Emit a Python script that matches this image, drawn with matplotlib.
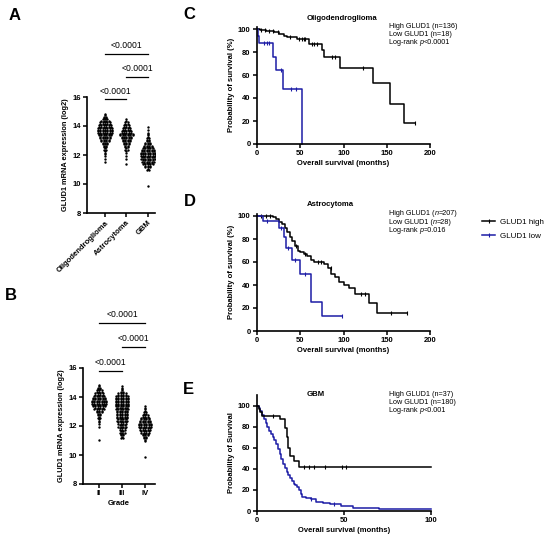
import matplotlib
matplotlib.use("Agg")
import matplotlib.pyplot as plt
import numpy as np
from matplotlib.lines import Line2D

plt.rcParams['font.family'] = ['Liberation Sans', 'DejaVu Sans']

BLUE = '#1c1ca6'

# ---- panel A: GLUD1 expression by histology (row centers, dots per row) ----
a_groups = ['Oligodendroglioma', 'Astrocytoma', 'GBM']
a_oligo_y = [11.6, 11.8, 12.0, 12.2, 12.4, 12.6, 12.8, 13.0, 13.2, 13.4, 13.6, 13.8, 14.0, 14.2, 14.4, 14.6, 14.8]
a_oligo_n = [1, 1, 2, 2, 3, 4, 6, 8, 10, 12, 14, 14, 12, 10, 7, 4, 2]
a_astro_y = [11.4, 11.8, 12.0, 12.2, 12.4, 12.6, 12.8, 13.0, 13.2, 13.4, 13.6, 13.8, 14.0, 14.2, 14.4]
a_astro_n = [1, 1, 1, 2, 3, 4, 6, 8, 10, 12, 10, 8, 6, 4, 2]
a_gbm_y = [9.9, 11.0, 11.2, 11.4, 11.6, 11.8, 12.0, 12.2, 12.4, 12.6, 12.8, 13.0, 13.2, 13.4, 13.6, 13.8, 14.0]
a_gbm_n = [1, 3, 6, 9, 11, 13, 14, 13, 11, 8, 6, 4, 3, 2, 1, 1, 1]

# ---- panel B: GLUD1 expression by grade ----
b_groups = ['II', 'III', 'IV']
b_g2_y = [11.1, 12.0, 12.2, 12.4, 12.6, 12.8, 13.0, 13.2, 13.4, 13.6, 13.8, 14.0, 14.2, 14.4, 14.6, 14.8]
b_g2_n = [1, 1, 2, 2, 3, 4, 6, 9, 12, 14, 13, 11, 8, 6, 4, 2]
b_g3_y = [11.2, 11.4, 11.6, 11.8, 12.0, 12.2, 12.4, 12.6, 12.8, 13.0, 13.2, 13.4, 13.6, 13.8, 14.0, 14.2, 14.4, 14.6, 14.8]
b_g3_n = [3, 4, 5, 6, 7, 8, 9, 10, 10, 10, 11, 12, 12, 12, 12, 8, 3, 2, 1]
b_g4_y = [9.9, 11.0, 11.2, 11.4, 11.6, 11.8, 12.0, 12.2, 12.4, 12.6, 12.8, 13.0, 13.2, 13.4]
b_g4_n = [1, 2, 4, 6, 8, 10, 12, 11, 9, 7, 5, 3, 2, 1]

sig_label = '<0.0001'
a_sig = [(0, 2, 19.0), (1, 2, 17.4), (0, 1, 15.85)]
b_sig = [(0, 2, 19.1), (1, 2, 17.45), (0, 1, 15.8)]

# ---- panel C: oligodendroglioma KM ----
c_hi_t = [0, 4, 10, 20, 26, 31, 35, 46, 60, 75, 77, 96, 134, 154, 170, 183]
c_hi_s = [100, 99, 98, 97, 96, 94, 93, 91, 87, 82, 76, 66, 53, 35, 18, 18]
c_hi_cens = [5, 9, 14, 19, 24, 38, 49, 52, 54, 56, 64, 66, 69, 87, 90, 123, 183]
c_lo_t = [0, 1, 2, 18, 22, 30, 52]
c_lo_s = [100, 94, 88, 76, 64, 48, 0]
c_lo_cens = [8, 11, 14, 28, 39, 45]
# each line is a list of (text, italic) pieces
c_text = [[('High GLUD1 (n=136)', False)],
          [('Low GLUD1 (n=18)', False)],
          [('Log-rank ', False), ('p', True), ('<0.0001', False)]]

# ---- panel D: astrocytoma KM ----
d_hi_t = [0, 18, 22, 26, 29, 32, 35, 38, 41, 44, 47, 50, 54, 58, 62, 66, 78, 82, 86, 90, 95, 100, 106, 113, 130, 139, 173]
d_hi_s = [100, 99, 97, 95, 93, 90, 86, 82, 78, 74, 70, 69, 67, 65, 62, 60, 58, 55, 50, 47, 43, 40, 37, 32, 24, 16, 16]
d_hi_cens = [5, 10, 15, 45, 56, 70, 74, 85, 120, 125, 155, 173]
d_lo_t = [0, 7, 25, 31, 34, 40, 50, 63, 75, 98]
d_lo_s = [100, 96, 90, 82, 72, 62, 50, 25, 13, 13]
d_lo_cens = [12, 28, 36, 44, 56, 98]
d_text = [[('High GLUD1 (', False), ('n', True), ('=207)', False)],
          [('Low GLUD1 (', False), ('n', True), ('=28)', False)],
          [('Log-rank ', False), ('p', True), ('=0.016', False)]]

# ---- panel E: GBM KM ----
e_hi_t = [0, 1, 2, 3, 13, 16, 17, 18, 19, 21, 24, 100]
e_hi_s = [100, 97, 94, 90, 87, 79, 70, 60, 52, 47, 41.5, 41.5]
e_hi_cens = [9, 27, 30, 33, 39, 49, 51]
e_lo_t = [0, 1, 2, 3, 4, 5, 6, 7, 8, 9, 10, 11, 12, 13, 14, 15, 16, 17, 18, 19, 20, 21, 22, 23, 24,
          25, 26, 28, 31, 34, 38, 42, 48, 55, 70, 100]
e_lo_s = [100, 98, 95, 91, 87, 83, 80, 76, 73, 70, 67, 64, 59, 54, 49, 45, 41, 37, 34, 31, 28, 26, 25, 23, 20,
          16, 13, 12, 11, 9, 8, 7, 5, 3, 1.5, 1.5]
e_lo_cens = [31, 44]
e_text = [[('High GLUD1 (n=37)', False)],
          [('Low GLUD1 (n=180)', False)],
          [('Log-rank ', False), ('p', True), ('<0.001', False)]]

W, H = 550, 544
fig = plt.figure(figsize=(5.5, 5.44), dpi=100)
renderer = fig.canvas.get_renderer()


def px_axes(left, right, top, bottom):
    return fig.add_axes([left / W, 1 - bottom / H, (right - left) / W, (bottom - top) / H])


def style(ax):
    for s in ('top', 'right'):
        ax.spines[s].set_visible(False)
    for s in ('left', 'bottom'):
        ax.spines[s].set_linewidth(1.2)
    ax.tick_params(direction='out', length=3, width=1.1, labelsize=5.5, pad=1.5)
    for lab in ax.get_xticklabels() + ax.get_yticklabels():
        lab.set_fontweight('bold')


def swarm(ax, xc, ys, ns, dx):
    for y, n in zip(ys, ns):
        rows = [((n + 1) // 2, y - 0.05), (n // 2, y + 0.05)]
        for k, yy in rows:
            if k == 0:
                continue
            offs = (np.arange(k) - (k - 1) / 2) * dx
            ax.scatter(xc + offs, np.full(k, yy), s=3.0, color='black', linewidths=0, zorder=3)


def expr_panel(ax, groups, data, sig, dx, xlim):
    for i, (ys, ns) in enumerate(data):
        swarm(ax, i, ys, ns, dx)
    ax.set_xlim(*xlim)
    ax.set_ylim(8, 16)
    ax.set_yticks([8, 10, 12, 14, 16])
    ax.set_xticks(range(len(groups)))
    ax.set_ylabel('GLUD1 mRNA expression (log2)', fontsize=5.3, fontweight='bold', labelpad=2)
    for x0, x1, y in sig:
        ax.plot([x0, x1], [y, y], color='black', lw=0.9, clip_on=False)
        ax.text((x0 + x1) / 2, y + 0.25, sig_label, ha='center', va='bottom', fontsize=6.2)


def km(ax, t, s, cens, color):
    ax.step(t, s, where='post', color=color, lw=1.1, clip_on=False)
    t_arr, s_arr = np.array(t), np.array(s)
    cy = [s_arr[np.searchsorted(t_arr, c, side='right') - 1] for c in cens]
    ax.plot(cens, cy, ls='none', marker='|', ms=2.6, mew=0.8, color=color, clip_on=False)


def rich_line(x_px, y_px, pieces, size=5.2):
    # draw text pieces one after another, italic where asked
    x = x_px
    for txt, ital in pieces:
        t = fig.text(x / W, 1 - y_px / H, txt, ha='left', va='center', fontsize=size,
                     fontstyle='italic' if ital else 'normal')
        x += t.get_window_extent(renderer).width


# panel A
axA = px_axes(87, 155, 97, 213)
expr_panel(axA, a_groups, [(a_oligo_y, a_oligo_n), (a_astro_y, a_astro_n), (a_gbm_y, a_gbm_n)],
           a_sig, 0.115, (-0.84, 2.33))
axA.set_xticklabels(a_groups, rotation=45, ha='right', rotation_mode='anchor')
style(axA)

# panel B
axB = px_axes(83, 155, 368, 484)
expr_panel(axB, b_groups, [(b_g2_y, b_g2_n), (b_g3_y, b_g3_n), (b_g4_y, b_g4_n)],
           b_sig, 0.105, (-0.70, 2.43))
axB.set_xticklabels(b_groups)
axB.set_xlabel('Grade', fontsize=5.5, fontweight='bold', labelpad=2)
style(axB)

# panel C
axC = px_axes(257, 430, 26.7, 144)
km(axC, c_hi_t, c_hi_s, c_hi_cens, 'black')
km(axC, c_lo_t, c_lo_s, c_lo_cens, BLUE)
axC.set_xlim(0, 200)
axC.set_ylim(0, 102)
axC.set_xticks([0, 50, 100, 150, 200])
axC.set_yticks([0, 20, 40, 60, 80, 100])
axC.set_xlabel('Overall survival (months)', fontsize=5.5, fontweight='bold', labelpad=2)
axC.set_ylabel('Probability of survival (%)', fontsize=5.5, fontweight='bold', labelpad=2)
style(axC)

# panel D
axD = px_axes(257, 430, 213.7, 331)
km(axD, d_hi_t, d_hi_s, d_hi_cens, 'black')
km(axD, d_lo_t, d_lo_s, d_lo_cens, BLUE)
axD.set_xlim(0, 200)
axD.set_ylim(0, 102)
axD.set_xticks([0, 50, 100, 150, 200])
axD.set_yticks([0, 20, 40, 60, 80, 100])
axD.set_xlabel('Overall survival (months)', fontsize=5.5, fontweight='bold', labelpad=2)
axD.set_ylabel('Probability of survival (%)', fontsize=5.5, fontweight='bold', labelpad=2)
style(axD)
handles = [Line2D([], [], color='black', lw=1.1, marker='|', ms=3, mew=0.8),
           Line2D([], [], color=BLUE, lw=1.1, marker='|', ms=3, mew=0.8)]
fig.legend(handles, ['GLUD1 high', 'GLUD1 low'], loc='upper left',
           bbox_to_anchor=(479 / W, 1 - 215 / H), frameon=False, fontsize=5.8,
           handlelength=1.6, handletextpad=0.6, labelspacing=0.75, borderaxespad=0)

# panel E
axE = px_axes(257, 431, 395, 511)
km(axE, e_lo_t, e_lo_s, e_lo_cens, BLUE)
km(axE, e_hi_t, e_hi_s, e_hi_cens, 'black')
axE.set_xlim(0, 100)
axE.set_ylim(0, 110)
axE.set_xticks([0, 50, 100])
axE.set_yticks([0, 20, 40, 60, 80, 100])
axE.set_xlabel('Overall survival (months)', fontsize=5.5, fontweight='bold', labelpad=2)
axE.set_ylabel('Probability of Survival', fontsize=5.5, fontweight='bold', labelpad=2)
style(axE)

# titles and stats text
for (cx, cy, title) in [(342, 18, 'Oligodendroglioma'), (330, 205, 'Astrocytoma'), (316, 395, 'GBM')]:
    fig.text(cx / W, 1 - cy / H, title, ha='center', va='center', fontsize=5.6, fontweight='bold')
for y0, lines in [(26, c_text), (214, d_text), (394, e_text)]:
    for i, pieces in enumerate(lines):
        rich_line(389, y0 + i * 8.5, pieces)

# panel letters
for (lx, ly, letter) in [(14.5, 16, 'A'), (11, 295, 'B'), (189, 14.5, 'C'), (190, 201, 'D'), (188, 389, 'E')]:
    fig.text(lx / W, 1 - ly / H, letter, ha='center', va='center', fontsize=12, fontweight='bold')

fig.savefig('out.png', dpi=100)
